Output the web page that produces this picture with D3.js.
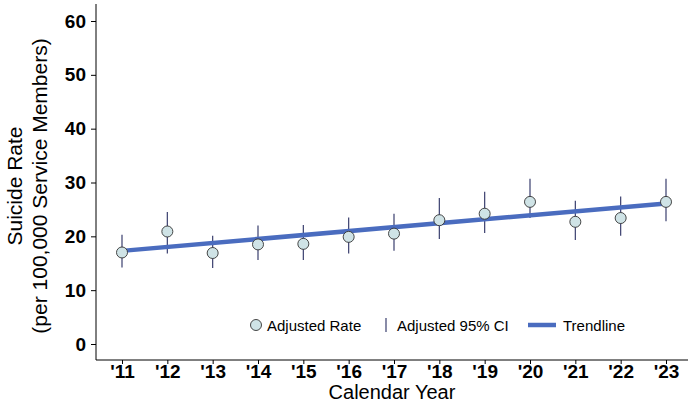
<!DOCTYPE html>
<html><head><meta charset="utf-8">
<script src="https://cdn.jsdelivr.net/npm/d3@7"></script>
<style>body{margin:0;background:#fff}text{font-family:Arial,"Liberation Sans",sans-serif}</style>
</head><body><svg id="c" width="688" height="402"></svg>
<script>
const years=["'11","'12","'13","'14","'15","'16","'17","'18","'19","'20","'21","'22","'23"];
const rate=[17.0,20.9,16.9,18.5,18.6,19.9,20.5,23.0,24.2,26.4,22.7,23.4,26.4];
const ciLow=[14.2,16.8,14.1,15.6,15.6,16.8,17.3,19.5,20.6,23.4,19.3,20.1,22.8];
const ciHigh=[20.3,24.5,20.1,22.0,22.1,23.5,24.2,27.1,28.3,30.7,26.6,27.4,30.7];
const trend=[17.3,26.1];
const yTicks=[0,10,20,30,40,50,60];
const svg=d3.select("#c");
const x=d3.scalePoint().domain(years).range([122,666]);
const y=d3.scaleLinear().domain([0,60]).range([344,21]);
svg.append("g").attr("transform","translate(96,0)").call(d3.axisLeft(y).tickValues(yTicks).tickSize(5))
 .call(g=>{g.select(".domain").attr("d","M0,4V360");g.selectAll("text").attr("font-size",19).attr("font-weight","bold").attr("fill","#000").attr("dx",-2);});
svg.append("g").attr("transform","translate(0,360)").call(d3.axisBottom(x).tickSize(4).tickPadding(1))
 .call(g=>{g.select(".domain").attr("d","M96,0H688");g.selectAll("text").attr("font-size",19).attr("font-weight","bold").attr("fill","#000");});
svg.append("text").attr("x",392).attr("y",399).attr("text-anchor","middle").attr("font-size",20).text("Calendar Year");
const yl=svg.append("text").attr("transform","translate(22,186) rotate(-90)").attr("text-anchor","middle").attr("font-size",21);
yl.append("tspan").attr("x",0).attr("dy",0).text("Suicide Rate");
yl.append("tspan").attr("x",0).attr("dy",25).text("(per 100,000 Service Members)");
svg.selectAll(".ci").data(years).join("line").attr("x1",d=>x(d)).attr("x2",d=>x(d))
 .attr("y1",(d,i)=>y(ciLow[i])).attr("y2",(d,i)=>y(ciHigh[i])).attr("stroke","#3a3f6e").attr("stroke-width",1.2);
svg.append("line").attr("x1",x(years[0])).attr("x2",x(years[12])).attr("y1",y(trend[0])).attr("y2",y(trend[1]))
 .attr("stroke","#4a6cbf").attr("stroke-width",4.5);
svg.selectAll(".pt").data(years).join("circle").attr("cx",d=>x(d)).attr("cy",(d,i)=>y(rate[i])).attr("r",5.5)
 .attr("fill","#cfe3e6").attr("stroke","#333").attr("stroke-width",0.9);
const lg=svg.append("g");
lg.append("circle").attr("cx",256).attr("cy",325).attr("r",5.5).attr("fill","#cfe3e6").attr("stroke","#333").attr("stroke-width",0.9);
lg.append("text").attr("x",267).attr("y",331).attr("font-size",15).text("Adjusted Rate");
lg.append("line").attr("x1",386).attr("x2",386).attr("y1",318).attr("y2",332).attr("stroke","#3a3f6e").attr("stroke-width",1.2);
lg.append("text").attr("x",397).attr("y",331).attr("font-size",15).text("Adjusted 95% CI");
lg.append("line").attr("x1",528).attr("x2",556).attr("y1",325).attr("y2",325).attr("stroke","#4a6cbf").attr("stroke-width",4.5);
lg.append("text").attr("x",563).attr("y",331).attr("font-size",15).text("Trendline");
</script></body></html>
